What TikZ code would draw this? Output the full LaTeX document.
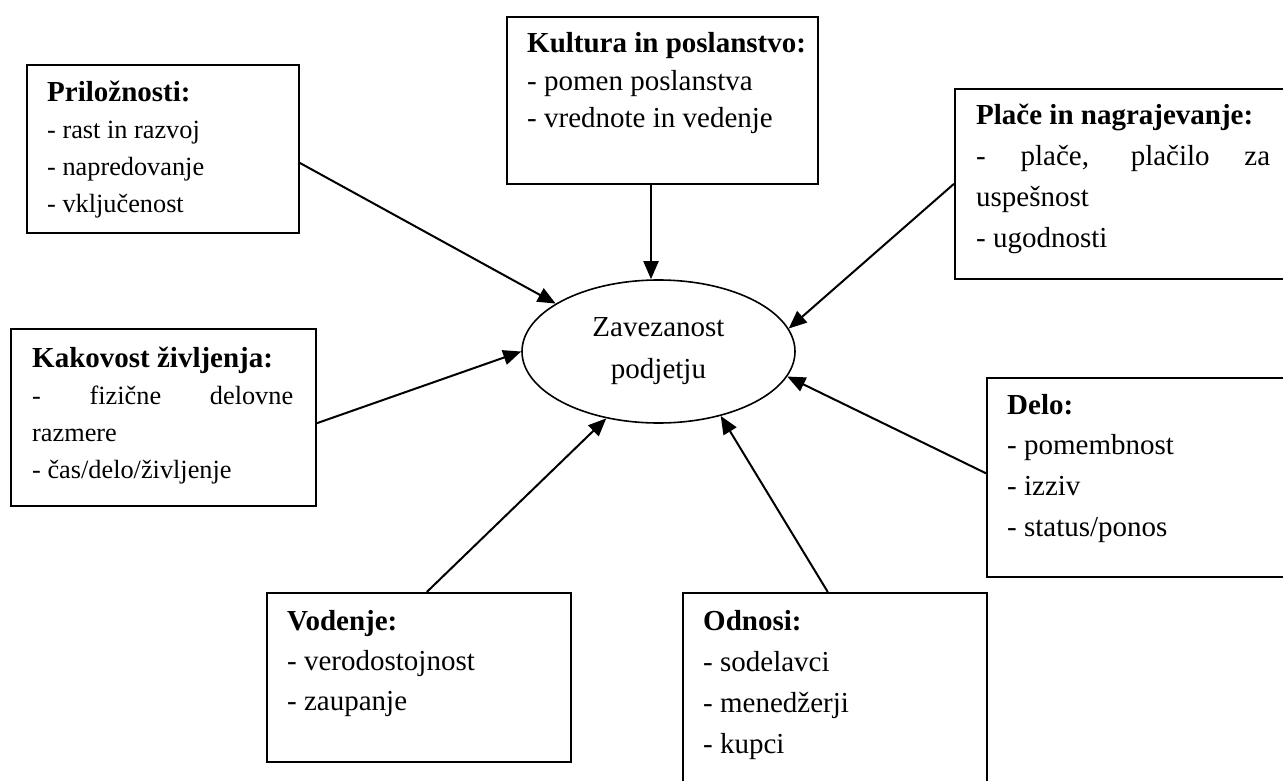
\documentclass[tikz,border=0pt]{standalone}
\usepackage{fontspec}
\setmainfont{Liberation Serif}
\usetikzlibrary{arrows.meta,shapes.geometric}

\tikzset{
  box/.style={draw, line width=1.6pt, anchor=north west, inner sep=0pt},
  txt/.style={anchor=base west, inner sep=0pt},
  arr/.style={line width=2pt, -{Triangle[length=18pt,width=15pt]}},
  hub/.style={draw, ellipse, line width=1.6pt, minimum width=273pt,
    minimum height=143pt, inner sep=0pt, align=center,
    font=\fontsize{29}{42}\selectfont}
}
% bold heading line of a box
\newcommand\hd[1]{{\fontsize{29}{37}\selectfont\bfseries #1}\par}

\begin{document}
\begin{tikzpicture}[x=1pt,y=-1pt]
\useasboundingbox (0,0) rectangle (1283,781);
\clip (0,0) rectangle (1283,781);

% frames
\node[box, minimum width=272pt, minimum height=168pt] (p)  at (26,64)  {};
\node[box, minimum width=311pt, minimum height=167pt] (k)  at (506,16) {};
\node[box, minimum width=346pt, minimum height=190pt] (pl) at (954,88) {};
\node[box, minimum width=305pt, minimum height=177pt] (kk) at (10,328) {};
\node[box, minimum width=314pt, minimum height=199pt] (d)  at (986,377) {};
\node[box, minimum width=304pt, minimum height=169pt] (v)  at (266,592) {};
\node[box, minimum width=304pt, minimum height=210pt] (o)  at (682,592) {};

% texts
\node[txt] (pt) at (47,102) {\parbox[t]{300pt}{\fontsize{26.3}{37}\selectfont
  \hd{Priložnosti:}- rast in razvoj\par - napredovanje\par - vključenost}};
\node[txt] (kt) at (527,53) {\parbox[t]{300pt}{\fontsize{29}{37.5}\selectfont
  \hd{Kultura in poslanstvo:}- pomen poslanstva\par - vrednote in vedenje}};
\node[txt] (plt) at (976,125) {\parbox[t]{300pt}{\fontsize{29}{40.7}\selectfont
  \hd{Plače in nagrajevanje:}\makebox[294pt][s]{- plače, plačilo za}\par
  uspešnost\par - ugodnosti}};
\node[txt] (kkt) at (32,367) {\parbox[t]{300pt}{\fontsize{26.3}{37}\selectfont
  \hd{Kakovost življenja:}\makebox[261pt][s]{- fizične delovne}\par
  razmere\par - čas/delo/življenje}};
\node[txt] (dt) at (1007,414) {\parbox[t]{300pt}{\fontsize{29}{40.7}\selectfont
  \hd{Delo:}- pomembnost\par - izziv\par - status/ponos}};
\node[txt] (vt) at (287,630) {\parbox[t]{300pt}{\fontsize{29}{40}\selectfont
  \hd{Vodenje:}- verodostojnost\par - zaupanje}};
\node[txt] (ot) at (703,630) {\parbox[t]{300pt}{\fontsize{29}{41}\selectfont
  \hd{Odnosi:}- sodelavci\par - menedžerji\par - kupci}};

% centre
\node[hub] (z) at (658.5,351.5) {Zavezanost\\podjetju};

% connectors
\coordinate (ka) at ([xshift=145pt]k.south west);
\draw[arr] ([yshift=-14pt]p.east) -- (z.155);
\draw[arr] (ka) -- (ka |- z.north);
\draw[arr] (pl.west) -- (z.10);
\draw[arr] ([yshift=-6pt]kk.east) -- (z.180);
\draw[arr] ([yshift=4pt]d.west) -- (z.349);
\draw[arr] ([xshift=8pt]v.north) -- (z.232);
\draw[arr] ([xshift=-7pt]o.north) -- (z.314);
\end{tikzpicture}
\end{document}
